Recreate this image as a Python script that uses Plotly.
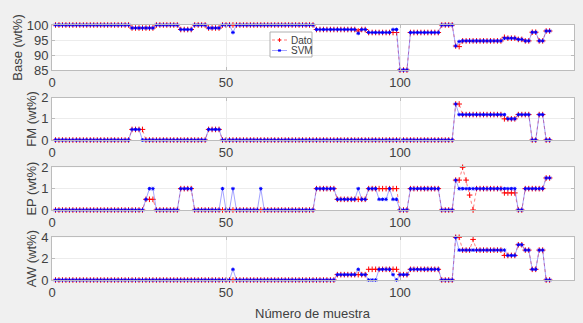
import plotly.graph_objects as go

# ---- data: (value, repeat count) runs, samples 1..143 ----
base_dato_runs = [(100, 22), (99, 7), (100, 7), (98.5, 4), (100, 4), (99, 4), (100, 27),
                  (98.5, 12), (98, 1), (98.5, 2), (97.5, 9), (85, 3), (97.5, 9), (100, 4),
                  (93, 1), (92.8, 1), (94.7, 12), (95.9, 1), (95.6, 3), (95.2, 2), (94.7, 2),
                  (97.6, 2), (94.7, 2), (98, 2)]
base_svm_runs = [(100, 22), (99, 7), (100, 7), (98.5, 4), (100, 4), (99, 4), (100, 3),
                 (97.5, 1), (100, 23), (98.5, 12), (97.2, 1), (98.5, 2), (97.5, 7), (98.5, 2),
                 (85, 3), (97.5, 9), (100, 4), (93, 1), (94.5, 1), (94.7, 12), (95.6, 4),
                 (95.2, 2), (94.7, 2), (97.6, 2), (94.7, 2), (98, 2)]

fm_dato_runs = [(0, 22), (0.5, 4), (0, 18), (0.5, 4), (0, 67), (1.7, 2), (1.2, 12),
                (1.0, 4), (1.2, 4), (0, 2), (1.2, 2), (0, 2)]
fm_svm_runs = [(0, 22), (0.5, 3), (0, 19), (0.5, 4), (0, 67), (1.7, 1), (1.2, 14),
               (1.0, 3), (1.2, 4), (0, 2), (1.2, 2), (0, 2)]

ep_dato_runs = [(0, 26), (0.5, 3), (0, 7), (1, 4), (0, 35), (1, 6), (0.5, 9), (1, 9),
                (0, 3), (1, 9), (0, 4), (1.4, 2), (2, 1), (1.4, 1), (0.7, 1), (0, 1),
                (1, 8), (0.8, 4), (0, 2), (1, 6), (1.5, 2)]
ep_svm_runs = [(0, 26), (0.5, 1), (1, 2), (0, 7), (1, 4), (0, 8), (1, 1), (0, 2), (1, 1),
               (0, 7), (1, 1), (0, 15), (1, 6), (0.5, 6), (1, 1), (0.5, 2), (1, 3),
               (0.5, 3), (1, 1), (0.5, 2), (0, 3), (1, 9), (0, 4), (1.4, 1), (1, 17),
               (0, 2), (1, 6), (1.5, 2)]

aw_dato_runs = [(0, 81), (0.5, 9), (1, 9), (0.5, 3), (1, 9), (0, 4), (4, 2), (2.8, 3),
                (3.8, 1), (2.8, 8), (2.3, 4), (3.3, 2), (2.8, 2), (1, 2), (2.8, 2), (0, 2)]
aw_svm_runs = [(0, 51), (1, 1), (0, 29), (0.5, 6), (1, 1), (0.5, 2), (0, 3), (1, 4),
               (0.5, 1), (0, 1), (0.5, 3), (1, 9), (0, 4), (4, 1), (2.8, 14), (2.3, 3),
               (3.3, 2), (2.8, 2), (1, 2), (2.8, 2), (0, 2)]

panel_titles = ["Base (wt%)", "FM (wt%)", "EP (wt%)", "AW (wt%)"]
panel_ranges = [[85, 100], [0, 2], [0, 2], [0, 4]]
panel_ticks = [[85, 90, 95, 100], [0, 1, 2], [0, 1, 2], [0, 2, 4]]
x_ticks = [0, 50, 100, 150]
x_title = "Número de muestra"
series_names = ["Dato", "SVM"]


def expand(runs):
    out = []
    for v, c in runs:
        out += [v] * c
    return out


panels = [(expand(base_dato_runs), expand(base_svm_runs)),
          (expand(fm_dato_runs), expand(fm_svm_runs)),
          (expand(ep_dato_runs), expand(ep_svm_runs)),
          (expand(aw_dato_runs), expand(aw_svm_runs))]
samples = list(range(1, len(panels[0][0]) + 1))

FONT = "Liberation Sans, Arial, sans-serif"
TXT = "#404040"
RED_LINE = "rgba(255,70,70,0.7)"
RED_MK = "rgba(255,0,0,0.85)"
BLUE_LINE = "rgba(90,90,255,0.55)"
BLUE_MK = "rgba(0,0,255,0.9)"

fig = go.Figure()
for i, (dato, svm) in enumerate(panels):
    k = "" if i == 0 else str(i + 1)
    fig.add_trace(go.Scatter(
        x=samples, y=dato, xaxis="x" + k, yaxis="y" + k, mode="lines+markers",
        name=series_names[0], showlegend=False, cliponaxis=False,
        line=dict(color=RED_LINE, width=1, dash="dot"),
        marker=dict(symbol="cross-thin-open", size=4, color="red",
                    line=dict(color=RED_MK, width=1))))
    fig.add_trace(go.Scatter(
        x=samples, y=svm, xaxis="x" + k, yaxis="y" + k, mode="lines+markers",
        name=series_names[1], showlegend=False, cliponaxis=False,
        line=dict(color=BLUE_LINE, width=1),
        marker=dict(symbol="asterisk-open", size=3, color="blue",
                    line=dict(color=BLUE_MK, width=1))))

# ---- layout: four stacked panels ----
W, H = 583, 323
ML, MR, MT, MB = 52, 9, 25, 43
PW, PH = W - ML - MR, H - MT - MB
domains = [[0.8235, 1.0], [0.549, 0.715], [0.2745, 0.442], [0.0, 0.1675]]

axis_common = dict(showline=True, mirror="ticks", linecolor="#bcbcbc", linewidth=1,
                   ticks="inside", ticklen=3, tickcolor="#bcbcbc", showgrid=True,
                   gridcolor="#ececec", zeroline=False, automargin=False,
                   tickfont=dict(family=FONT, size=13, color=TXT))

layout = dict(width=W, height=H, paper_bgcolor="#f0f0f0", plot_bgcolor="white",
              margin=dict(l=ML, r=MR, t=MT, b=MB, autoexpand=False),
              font=dict(family=FONT, color=TXT), showlegend=False)
for i in range(4):
    k = "" if i == 0 else str(i + 1)
    xa = dict(axis_common, domain=[0, 1], range=[0, 150], tickvals=x_ticks,
              anchor="y" + k)
    ya = dict(axis_common, domain=domains[i], range=panel_ranges[i],
              tickvals=panel_ticks[i], anchor="x" + k,
              title=dict(text=panel_titles[i], font=dict(family=FONT, size=13, color=TXT),
                         standoff=1))
    layout["xaxis" + k] = xa
    layout["yaxis" + k] = ya
fig.update_layout(**layout)


def px(x):  # pixel -> paper x
    return (x - ML) / PW


def py(y):  # pixel -> paper y
    return (H - MB - y) / PH


# x-axis title under the bottom panel
fig.add_annotation(x=0.5, y=py(313), xref="paper", yref="paper", text=x_title,
                   showarrow=False, xanchor="center", yanchor="middle",
                   font=dict(family=FONT, size=13, color=TXT))

# ---- compact MATLAB-style legend box (inside the Base panel) ----
shapes = [dict(type="rect", xref="paper", yref="paper", x0=px(270), x1=px(312),
               y0=py(57), y1=py(32), fillcolor="white",
               line=dict(color="#b0b0b0", width=1), layer="above")]
rows = [(40, RED_LINE, "dot", RED_MK, "cross"), (50.5, BLUE_LINE, "solid", BLUE_MK, "star")]
for (yy, lc, dash, mc, kind), name in zip(rows, series_names):
    shapes.append(dict(type="line", xref="paper", yref="paper", x0=px(272), x1=px(287),
                       y0=py(yy), y1=py(yy), line=dict(color=lc, width=1, dash=dash),
                       layer="above"))
    segs = [(-2, 0, 2, 0), (0, -2, 0, 2)]
    if kind == "star":
        segs = [(-1.6, 0, 1.6, 0), (-0.9, -1.5, 0.9, 1.5), (-0.9, 1.5, 0.9, -1.5)]
    for a, b, c, d in segs:
        shapes.append(dict(type="line", xref="paper", yref="paper",
                           xsizemode="pixel", ysizemode="pixel",
                           xanchor=px(279.5), yanchor=py(yy),
                           x0=a, y0=b, x1=c, y1=d, line=dict(color=mc, width=1),
                           layer="above"))
    fig.add_annotation(x=px(288.5), y=py(yy), xref="paper", yref="paper", text=name,
                       showarrow=False, xanchor="left", yanchor="middle",
                       font=dict(family=FONT, size=10, color=TXT))
fig.update_layout(shapes=shapes)
fig.write_html("out.html")
